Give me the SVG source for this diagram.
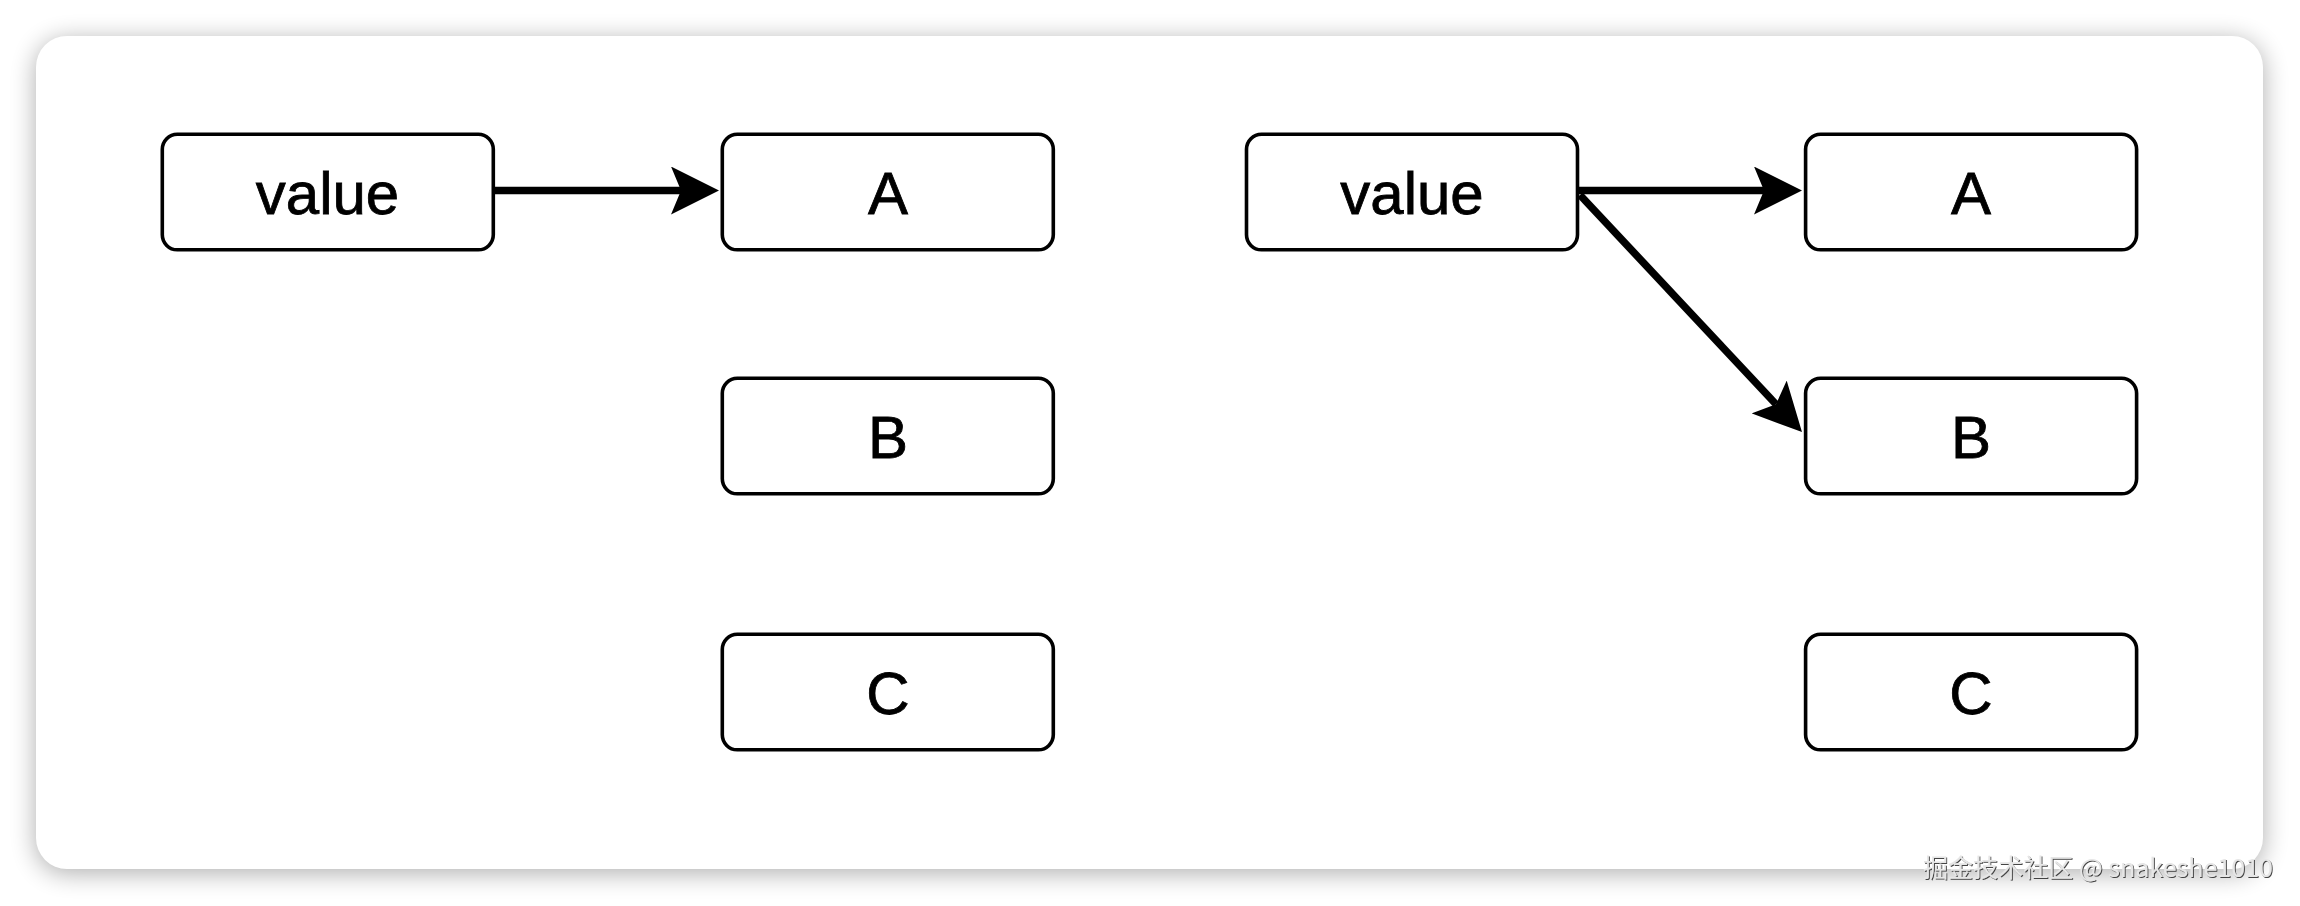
<svg xmlns="http://www.w3.org/2000/svg" width="2300" height="906" viewBox="0 0 2300 906">
  <style>
    .box { fill: #ffffff; stroke: #000000; stroke-width: 3.6; }
    .lbl { font-family: "Liberation Sans", Arial, Helvetica, sans-serif; font-size: 60px; fill: #000000; stroke: #000000; stroke-width: 0.8; text-anchor: middle; }
    .edge { fill: none; stroke: #000000; stroke-width: 7.5; }
    .wm { font-family: "Noto Sans CJK SC", "Noto Sans", sans-serif; font-size: 25px; fill: #e6e6e6; }
  </style>
  <defs>
    <filter id="cardShadow" x="-5%" y="-10%" width="110%" height="120%">
      <feGaussianBlur stdDeviation="13"/>
    </filter>
    <filter id="wmShadow" x="-5%" y="-30%" width="110%" height="160%">
      <feDropShadow dx="1" dy="1" stdDeviation="0.6" flood-color="#333333" flood-opacity="0.9"/>
    </filter>
    <marker id="arrow" markerUnits="userSpaceOnUse" viewBox="0 0 48 48" markerWidth="48" markerHeight="48" refX="10" refY="24" orient="auto">
      <path d="M0,0 L48,24 L0,48 L10,24 Z" fill="#000000"/>
    </marker>
  </defs>

  <rect x="0" y="0" width="2300" height="906" fill="#ffffff"/>
  <g id="card">
    <rect x="36" y="40" width="2227" height="833" rx="31" fill="#000000" opacity="0.32" filter="url(#cardShadow)"/>
    <rect x="36" y="36" width="2227" height="833" rx="31" fill="#ffffff"/>
  </g>

  <!-- Left diagram -->
  <g id="left-value">
    <rect class="box" x="162.3" y="134.3" width="331" height="115.5" rx="15"/>
    <text class="lbl" x="327.5" y="214">value</text>
  </g>
  <g id="left-A">
    <rect class="box" x="722.3" y="134.3" width="331" height="115.5" rx="15"/>
    <text class="lbl" x="888" y="214">A</text>
  </g>
  <g id="left-B">
    <rect class="box" x="722.3" y="378.3" width="331" height="115.5" rx="15"/>
    <text class="lbl" x="888" y="458">B</text>
  </g>
  <g id="left-C">
    <rect class="box" x="722.3" y="634.3" width="331" height="115.5" rx="15"/>
    <text class="lbl" x="888" y="714">C</text>
  </g>

  <!-- Right diagram -->
  <g id="right-value">
    <rect class="box" x="1246.5" y="134.3" width="331" height="115.5" rx="15"/>
    <text class="lbl" x="1412" y="214">value</text>
  </g>
  <g id="right-A">
    <rect class="box" x="1805.6" y="134.3" width="331" height="115.5" rx="15"/>
    <text class="lbl" x="1971" y="214">A</text>
  </g>
  <g id="right-B">
    <rect class="box" x="1805.6" y="378.3" width="331" height="115.5" rx="15"/>
    <text class="lbl" x="1971" y="458">B</text>
  </g>
  <g id="right-C">
    <rect class="box" x="1805.6" y="634.3" width="331" height="115.5" rx="15"/>
    <text class="lbl" x="1971" y="714">C</text>
  </g>

  <g id="connectors">
    <path class="edge" d="M495,190.5 L681,190.5" marker-end="url(#arrow)"/>
    <path class="edge" d="M1579,190.5 L1764,190.5" marker-end="url(#arrow)"/>
    <path class="edge" d="M1580,195 L1776,404.3" marker-end="url(#arrow)"/>
  </g>

  <text class="wm" x="1923" y="877" textLength="350" lengthAdjust="spacingAndGlyphs" filter="url(#wmShadow)">掘金技术社区 @ snakeshe1010</text>
</svg>
